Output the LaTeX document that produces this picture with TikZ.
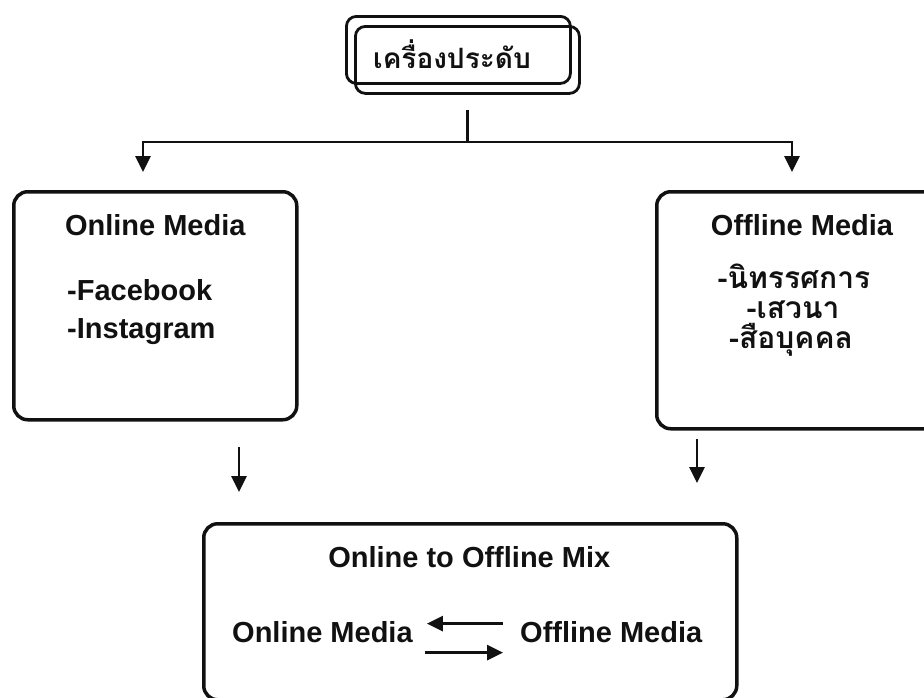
\documentclass[tikz,border=0pt]{standalone}
\usepackage{fontspec}
\setmainfont{Liberation Sans}
\newfontfamily\thaifont[Script=Thai]{Loma}
\usetikzlibrary{arrows.meta,calc}
\definecolor{ink}{HTML}{111111}

\begin{document}
\begin{tikzpicture}[
  x=1pt, y=-1pt,
  font=\fontsize{29}{34}\selectfont\bfseries,
  >={Triangle[length=16pt,width=15pt]},
  box/.style={draw=ink, line width=3.5pt, rounded corners=14pt, inner sep=0pt, anchor=north west},
  headbox/.style={draw=ink, line width=2.8pt, rounded corners=10pt, inner sep=0pt, anchor=north west, minimum width=224pt, minimum height=67pt},
  link/.style={->, draw=ink, line width=2.8pt},
  txt/.style={anchor=base, inner sep=0pt, text=ink},
  thai/.style={txt, font=\thaifont\bfseries\fontsize{30}{36}\selectfont}
]
\useasboundingbox (0,0) rectangle (924,697);
\clip (0,0) rectangle (924,697);

% Head of the tree
\node[headbox] (headback) at (345,15) {};
\node[headbox] (headfront) at (354,25) {};
\node[thai, font=\thaifont\bfseries\fontsize{28}{34}\selectfont] (head) at (452,68) {เครื่องประดับ};

% The two media boxes
\node[box, minimum width=283pt, minimum height=228pt] (online) at (12,190) {};
\node[box, minimum width=285pt, minimum height=237pt] (offline) at (655,190) {};

\node[txt] (onlinetitle) at ($(online.north)+(0,45)$) {Online Media};
\node[txt, anchor=base west] (facebook) at (67,300) {-Facebook};
\node[txt, anchor=base west] (instagram) at (67,338) {-Instagram};

\node[txt] (offlinetitle) at (802,235) {Offline Media};
\node[thai] (exhibit) at (794,288) {-นิทรรศการ};
\node[thai] (seminar) at (793,318) {-เสวนา};
\node[thai] (person) at (791,348) {-สือบุคคล};

% Split from the head
\coordinate (stem) at ($(headfront.south)+(0,15)$);
\coordinate (split) at (stem|-0,142);
\coordinate (lefttip) at (143,172);
\coordinate (righttip) at (792,172);
\draw[link] (stem) -- (split) -| (lefttip);
\draw[link] (split) -| (righttip);

% Mix box
\node[box, minimum width=533pt, minimum height=176pt] (mix) at (202,522) {};
\node[txt] (mixtitle) at ($(mix.north)+(-1,45)$) {Online to Offline Mix};
\node[txt, anchor=base west] (mixonline) at (232,642) {Online Media};
\node[txt, anchor=base west] (mixoffline) at (520,642) {Offline Media};

% Arrows down to the mix
\coordinate (onlinedrop) at (239,447);
\coordinate (onlinetip) at (239,492);
\coordinate (offlinedrop) at (697,439);
\coordinate (offlinetip) at (697,483);
\draw[link] (onlinedrop) -- (onlinetip);
\draw[link] (offlinedrop) -- (offlinetip);

% Both ways inside the mix
\coordinate (backtail) at ($(mixoffline.west)+(-17,-8)$);
\coordinate (backtip) at ($(mixonline.east)+(14,-8)$);
\coordinate (fwdtail) at ($(mixonline.east)+(12,21)$);
\coordinate (fwdtip) at ($(mixoffline.west)+(-17,21)$);
\draw[link] (backtail) -- (backtip);
\draw[link] (fwdtail) -- (fwdtip);

\end{tikzpicture}
\end{document}
